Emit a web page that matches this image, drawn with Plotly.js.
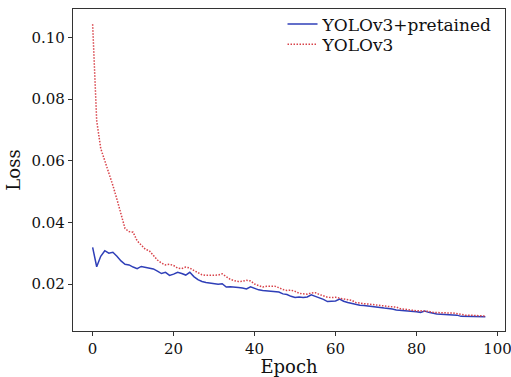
<!DOCTYPE html>
<html>
<head>
<meta charset="utf-8">
<script src="https://cdn.plot.ly/plotly-3.0.1.min.js"></script>
<style>html,body{margin:0;padding:0;background:#fff;overflow:hidden;width:511px;height:377px;}#chart{width:511px;height:377px;}</style>
</head>
<body>
<div id="chart"></div>
<script>
const epochs = Array.from({length: 98}, (_, i) => i);
const pretrainedLoss = [
0.0319,0.0256,0.0290,0.0308,0.0300,0.0303,0.0290,0.0275,0.0264,0.0262,
0.0255,0.0250,0.0257,0.0254,0.0251,0.0249,0.0242,0.0234,0.0238,0.0228,
0.0232,0.0238,0.0234,0.0229,0.0238,0.0224,0.0214,0.0208,0.0205,0.0203,
0.0199,0.0199,0.0201,0.0190,0.0191,0.0191,0.0189,0.0187,0.0184,0.0191,
0.0185,0.0181,0.0179,0.0178,0.0177,0.0175,0.0174,0.0168,0.0166,0.0160,
0.0156,0.0158,0.0156,0.0158,0.0165,0.0160,0.0156,0.0150,0.0143,0.0143,
0.0145,0.0151,0.0144,0.0140,0.0137,0.0133,0.0131,0.0130,0.0129,0.0127,
0.0126,0.0124,0.0122,0.0121,0.0119,0.0116,0.0115,0.0115,0.0113,0.0111,
0.0110,0.0108,0.0112,0.0108,0.0105,0.0103,0.0102,0.0101,0.0101,0.0100,
0.0099,0.0095,0.0095,0.0094,0.0094,0.0094,0.0093,0.0094];
const scratchLoss = [
0.1043,0.0730,0.0640,0.0600,0.0565,0.0520,0.0475,0.0430,0.0380,0.0370,
0.0368,0.0340,0.0325,0.0313,0.0308,0.0292,0.0278,0.0268,0.0262,0.0264,
0.0260,0.0252,0.0250,0.0255,0.0252,0.0244,0.0236,0.0230,0.0228,0.0228,
0.0230,0.0229,0.0233,0.0225,0.0215,0.0211,0.0208,0.0209,0.0212,0.0210,
0.0200,0.0195,0.0190,0.0193,0.0194,0.0193,0.0188,0.0182,0.0179,0.0180,
0.0176,0.0170,0.0168,0.0167,0.0171,0.0172,0.0166,0.0161,0.0157,0.0156,
0.0157,0.0154,0.0151,0.0150,0.0147,0.0140,0.0137,0.0136,0.0135,0.0134,
0.0133,0.0131,0.0129,0.0127,0.0126,0.0125,0.0120,0.0118,0.0116,0.0114,
0.0113,0.0113,0.0113,0.0111,0.0108,0.0107,0.0106,0.0106,0.0106,0.0106,
0.0104,0.0100,0.0099,0.0099,0.0098,0.0098,0.0097,0.0096];
const seriesNames = ['YOLOv3+pretained', 'YOLOv3'];
const xTicks = [0, 20, 40, 60, 80, 100];
const yTicks = [0.02, 0.04, 0.06, 0.08, 0.10];
const yTickText = ['0.02', '0.04', '0.06', '0.08', '0.10'];

const font = 'DejaVu Serif, serif';
const traces = [
  {x: epochs, y: pretrainedLoss, name: seriesNames[0], type: 'scatter', mode: 'lines',
   legend: 'legend', line: {color: '#2f3fb8', width: 1.5}},
  {x: epochs, y: scratchLoss, name: seriesNames[1], type: 'scatter', mode: 'lines',
   legend: 'legend2', line: {color: '#d8434a', width: 1.5, dash: '1.5px,1.5px'}}
];
const axisCommon = {
  showline: true, mirror: true, linecolor: '#333', linewidth: 1.2,
  ticks: 'outside', ticklen: 4, tickwidth: 1, tickcolor: '#333',
  showgrid: false, zeroline: false, ticklabeloverflow: 'allow',
  tickfont: {family: font, size: 15, color: '#111'}
};
const legendCommon = {
  xanchor: 'left', yanchor: 'middle', x: 0.485,
  bgcolor: 'rgba(0,0,0,0)', borderwidth: 0,
  font: {family: font, size: 17, color: '#111'}, itemwidth: 30
};
const layout = {
  width: 511, height: 377,
  margin: {l: 73, r: 6, t: 9, b: 46},
  paper_bgcolor: '#fff', plot_bgcolor: '#fff',
  showlegend: true,
  legend: Object.assign({}, legendCommon, {y: 0.952}),
  legend2: Object.assign({}, legendCommon, {y: 0.889}),
  xaxis: Object.assign({}, axisCommon, {
    range: [-4.85, 101.85], tickvals: xTicks, ticktext: xTicks.map(String),
    title: {text: 'Epoch', font: {family: font, size: 18, color: '#111'}, standoff: 1},
    automargin: false
  }),
  yaxis: Object.assign({}, axisCommon, {
    range: [0.00475, 0.10925], tickvals: yTicks, ticktext: yTickText,
    title: {text: 'Loss', font: {family: font, size: 18, color: '#111'}, standoff: 6},
    automargin: false
  })
};
Plotly.newPlot('chart', traces, layout, {displayModeBar: false, staticPlot: true});
</script>
</body>
</html>
